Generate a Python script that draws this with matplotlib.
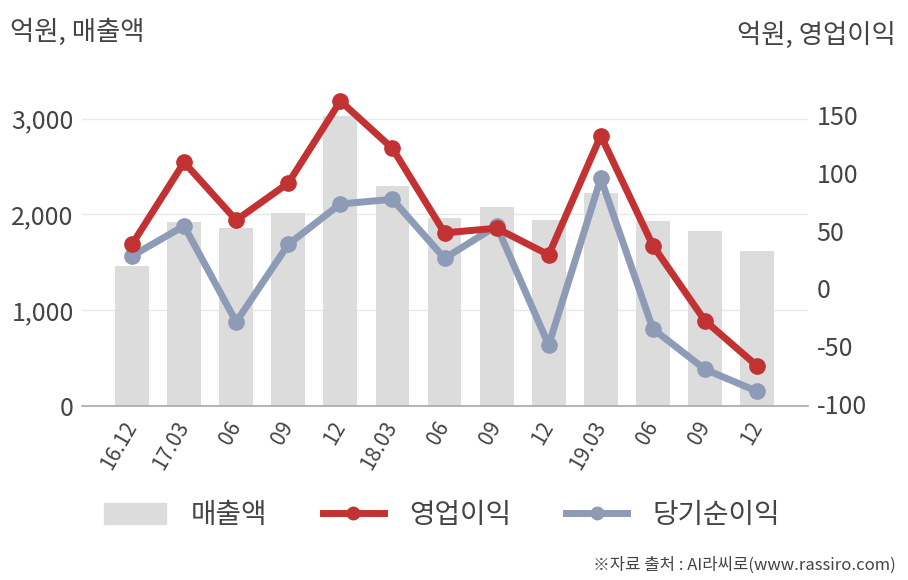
import numpy as np
import matplotlib as mpl
mpl.use("Agg")
import matplotlib.pyplot as plt
from matplotlib.patches import Patch
from matplotlib.lines import Line2D

plt.rcParams["font.family"] = ["Noto Sans CJK KR", "DejaVu Sans"]
plt.rcParams["axes.unicode_minus"] = False

# --- data -----------------------------------------------------------------
quarters = ["16.12", "17.03", "06", "09", "12", "18.03", "06", "09", "12",
            "19.03", "06", "09", "12"]
sales = [1463, 1923, 1860, 2017, 3030, 2299, 1964, 2079, 1944, 2226, 1933, 1829, 1620]
op_profit = [38, 109, 59, 91, 162, 121, 48, 52, 29, 132, 37, -28, -67]
net_income = [28, 54, -29, 38, 73, 77, 26, 54, -49, 95, -35, -70, -89]

C = {"bar": "#DCDCDC", "red": "#C33232", "blue": "#8D9BB7",
     "text": "#444444", "grid": "#E8E8E8", "axis": "#A8A8A8"}

fig = plt.figure(figsize=(9.08, 5.8), dpi=100)
ax = fig.add_axes([0.0903, 0.30, 0.7997, 0.545])
x = np.arange(len(quarters))

ax.bar(x, sales, 0.65, color=C["bar"], zorder=1)
ax.set_xlim(-0.96, 12.98)
ax.set_ylim(0, 3300)
ax.set_yticks([0, 1000, 2000, 3000])
ax.set_yticklabels(["0", "1,000", "2,000", "3,000"])
ax.yaxis.grid(True, color=C["grid"], lw=1.0, zorder=0)
ax.set_axisbelow(True)
for s in ("top", "right", "left"):
    ax.spines[s].set_visible(False)
ax.spines["bottom"].set_color(C["axis"])
ax.spines["bottom"].set_linewidth(1.2)
ax.tick_params(axis="both", length=0, colors=C["text"])
ax.tick_params(axis="y", labelsize=18, pad=6)
ax.set_xticks(x)
ax.set_xticklabels(quarters, rotation=60, ha="right", va="center",
                   rotation_mode="anchor", fontsize=15)
ax.tick_params(axis="x", pad=12)

ax2 = ax.twinx()
ax2.set_ylim(-101.7, 171.6)
ax2.set_yticks([-100, -50, 0, 50, 100, 150])
for s in ax2.spines.values():
    s.set_visible(False)
ax2.tick_params(axis="y", length=0, colors=C["text"], labelsize=18, pad=6)
ax2.plot(x, op_profit, color=C["red"], lw=5, marker="o", ms=11,
         solid_capstyle="round", zorder=4)
ax2.plot(x, net_income, color=C["blue"], lw=5, marker="o", ms=11,
         solid_capstyle="round", zorder=3)

fig.text(0.011, 0.945, "억원, 매출액", fontsize=19, color=C["text"], va="center")
fig.text(0.986, 0.94, "억원, 영업이익", fontsize=19, color=C["text"],
         va="center", ha="right")
fig.text(0.986, 0.025, "※자료 출처 : AI라씨로(www.rassiro.com)", fontsize=12,
         color=C["text"], ha="right", va="center")

handles = [Patch(color=C["bar"]),
           Line2D([], [], color=C["red"], lw=5, marker="o", ms=9),
           Line2D([], [], color=C["blue"], lw=5, marker="o", ms=9)]
leg = fig.legend(handles, ["매출액", "영업이익", "당기순이익"], loc="center",
                 bbox_to_anchor=(0.487, 0.112), ncol=3, frameon=False,
                 fontsize=20, handlelength=2.2, handleheight=0.8,
                 handletextpad=0.9, columnspacing=2.0)
for t in leg.get_texts():
    t.set_color(C["text"])

fig.savefig("out.png", dpi=100)
